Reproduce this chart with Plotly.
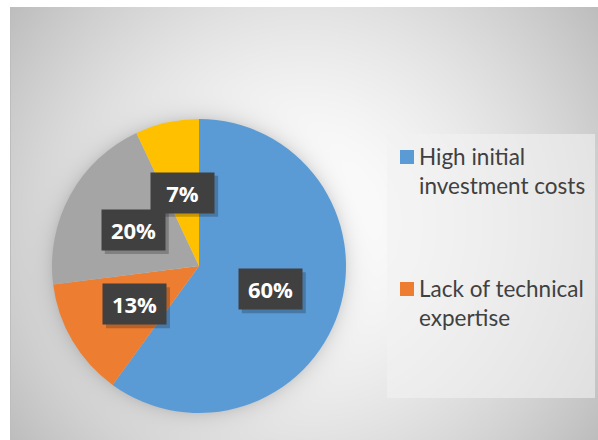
import base64
import math
import struct
import zlib

import numpy as np
import plotly.graph_objects as go

# ---- data -------------------------------------------------------------
labels = ["High initial investment costs", "Lack of technical expertise",
          "Category 3", "Category 4"]
values = [60, 13, 20, 7]
colors = ["#5B9BD5", "#ED7D31", "#A5A5A5", "#FFC000"]
legend_text = ["High initial<br>investment costs", "Lack of technical<br>expertise"]

# ---- geometry (pixels) ------------------------------------------------
W, H = 598, 440
AX0, AY0, AX1, AY1 = 10, 7, 598, 440      # chart area
CX, CY, R = 199, 266, 147                 # pie centre / radius
LABEL_R = 0.51 * R


def px(x):
    return x / W


def py(y):
    return 1 - y / H


def png_uri(img):
    h, w, _ = img.shape
    raw = b"".join(b"\x00" + img[i].tobytes() for i in range(h))

    def chunk(tag, data):
        c = struct.pack(">I", len(data)) + tag + data
        return c + struct.pack(">I", zlib.crc32(tag + data) & 0xFFFFFFFF)

    png = (b"\x89PNG\r\n\x1a\n"
           + chunk(b"IHDR", struct.pack(">IIBBBBB", w, h, 8, 2, 0, 0, 0))
           + chunk(b"IDAT", zlib.compress(raw, 9))
           + chunk(b"IEND", b""))
    return "data:image/png;base64," + base64.b64encode(png).decode()


# radial grey gradient behind the chart, with a soft halo around the pie
yy, xx = np.mgrid[0:H, 0:W] + 0.5
gcx, gcy = (AX0 + AX1) / 2, (AY0 + AY1) / 2
t = np.clip(np.hypot(xx - gcx, yy - gcy) /
            np.hypot((AX1 - AX0) / 2, (AY1 - AY0) / 2), 0, 1)
v = 255 - 66 * t ** 1.6
dp = np.hypot(xx - CX, yy - CY) - R
halo = np.where(dp > 0, 0.12 * np.exp(-dp / 9), 0.12)
v = v * (1 - halo)
v = np.where((xx >= AX0) & (yy >= AY0), v, 255)
img = np.repeat(np.clip(v, 0, 255).astype(np.uint8)[..., None], 3, axis=2)

fig = go.Figure()
fig.add_trace(go.Pie(
    labels=labels, values=values, sort=False, direction="clockwise",
    rotation=0, marker=dict(colors=colors, line=dict(width=0)),
    textinfo="none", hoverinfo="label+percent", showlegend=False,
    domain=dict(x=[px(CX - R), px(CX + R)], y=[py(CY + R), py(CY - R)]),
))

shapes = [
    # chart-area edge
    dict(type="line", xref="paper", yref="paper", layer="below",
         x0=px(AX0 + 0.5), x1=px(AX0 + 0.5), y0=py(AY1), y1=py(AY0),
         line=dict(color="#BDBDBD", width=1)),
    # legend panel
    dict(type="rect", xref="paper", yref="paper", layer="below",
         x0=px(387), x1=px(595), y0=py(398), y1=py(134),
         line=dict(width=0), fillcolor="rgba(242,242,242,0.6)"),
]
annotations = []

# percentage labels in dark boxes at the middle of each slice
total = float(sum(values))
cum = 0.0
BW, BH = 63, 40
for val in values:
    mid = (cum + val / 2) / total * 2 * math.pi
    cum += val
    lx = CX + LABEL_R * math.sin(mid)
    ly = CY - LABEL_R * math.cos(mid)
    shapes.append(dict(
        type="rect", xref="paper", yref="paper", layer="above",
        x0=px(lx - BW / 2 + 3), x1=px(lx + BW / 2 + 4),
        y0=py(ly + BH / 2 + 4), y1=py(ly - BH / 2 + 3),
        line=dict(width=0), fillcolor="rgba(0,0,0,0.22)"))
    annotations.append(dict(
        xref="paper", yref="paper", x=px(lx), y=py(ly),
        xanchor="center", yanchor="middle", showarrow=False,
        text=f"{val / total * 100:.0f}%", width=BW, height=BH, borderpad=0,
        bgcolor="#404040",
        font=dict(family="Open Sans", size=22, color="white", weight="bold")))

# legend entries
for i, txt in enumerate(legend_text):
    base = 164 + i * 132
    shapes.append(dict(
        type="rect", xref="paper", yref="paper", layer="above",
        x0=px(400), x1=px(414), y0=py(base), y1=py(base - 14),
        line=dict(width=0), fillcolor=colors[i]))
    annotations.append(dict(
        xref="paper", yref="paper", x=px(417), y=py(base - 23),
        xanchor="left", yanchor="top", align="left", showarrow=False,
        text=txt, font=dict(family="Lato", size=22.5, color="#404040")))

fig.update_layout(
    width=W, height=H, margin=dict(l=0, r=0, t=0, b=0),
    paper_bgcolor="white", plot_bgcolor="white",
    images=[dict(source=png_uri(img), xref="paper", yref="paper",
                 x=0, y=1, sizex=1, sizey=1, sizing="stretch",
                 xanchor="left", yanchor="top", layer="below")],
    shapes=shapes, annotations=annotations,
)

fig.write_html("out.html")
